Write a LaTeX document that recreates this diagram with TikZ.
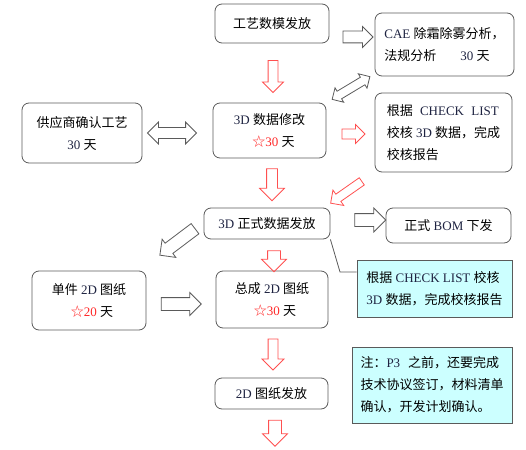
\documentclass[tikz,border=0pt]{standalone}
\usepackage{fontspec}
\setmainfont{Liberation Serif}
\newfontfamily\zhfont{Noto Sans CJK SC}
\usetikzlibrary{shapes.arrows}
\definecolor{boxgray}{RGB}{90,90,90}
\definecolor{latin}{RGB}{30,35,65}
\definecolor{arrred}{RGB}{255,80,80}
\definecolor{starred}{RGB}{255,40,40}
\definecolor{notefill}{RGB}{204,255,255}
\newcommand\zh[1]{{\zhfont #1}}
\newcommand\lat[1]{\textcolor{latin}{#1}}
\newcommand\due[1]{\textcolor{starred}{{\zhfont ☆}#1}}
\tikzset{
  box/.style={draw=boxgray, line width=0.8pt, rounded corners=7pt, align=center, inner sep=0pt},
  note/.style={draw=boxgray, fill=notefill, line width=1pt, align=left, inner sep=0pt},
  blk/.style={single arrow, line width=0.8pt, inner xsep=0pt, minimum width=0pt},
  redblk/.style={blk, draw=arrred},
  grayblk/.style={blk, draw=boxgray},
  dblk/.style={double arrow, draw=boxgray, line width=0.8pt, inner xsep=0pt, minimum width=0pt},
}
\begin{document}
\begin{tikzpicture}[x=1pt, y=-1pt, font=\fontsize{13}{22}\selectfont]
\useasboundingbox (0,0) rectangle (526,449);

\node [box, minimum width=114pt, minimum height=39pt] (v1) at (272,23.5) {\zh{工艺数模发放}};
\node [box, align=left, minimum width=139pt, minimum height=63pt] (v2) at (444.5,44.5) {\lat{CAE} \zh{除霜除雾分析，}\\\zh{法规分析}\hspace{24pt}\lat{30} \zh{天}};
\node [box, align=left, minimum width=137pt, minimum height=79pt] (v3) at (443.5,132.5) {\makebox[112pt][s]{\zh{根据} \lat{CHECK} \lat{LIST}}\\\zh{校核} \lat{3D} \zh{数据，完成}\\\zh{校核报告}};
\node [box, minimum width=120pt, minimum height=60pt] (v4) at (82,133) {\zh{供应商确认工艺}\\\lat{30} \zh{天}};
\node [box, minimum width=113pt, minimum height=55pt] (v5) at (269.5,130.5) {\lat{3D} \zh{数据修改}\\\hspace{8pt}\due{30} \zh{天}};
\node [box, minimum width=126pt, minimum height=31pt] (v6) at (267,223.5) {\lat{3D} \zh{正式数据发放}};
\node [box, minimum width=125pt, minimum height=35pt] (v7) at (448.5,225.5) {\zh{正式} \lat{BOM} \zh{下发}};
\node [box, minimum width=114pt, minimum height=59pt] (v8) at (89,300.5) {\zh{单件} \lat{2D} \zh{图纸}\\\hspace{6pt}\due{20} \zh{天}};
\node [box, minimum width=112pt, minimum height=57pt] (v9) at (272,299.5) {\zh{总成} \lat{2D} \zh{图纸}\\\hspace{6pt}\due{30} \zh{天}};
\node [box, minimum width=113pt, minimum height=31pt] (v10) at (271.5,393.5) {\lat{2D} \zh{图纸发放}};
\node [note, minimum width=155pt, minimum height=57pt] (n1) at (434.5,288.5) {\zh{根据} \lat{CHECK LIST} \zh{校核}\\\lat{3D} \zh{数据，完成校核报告}};
\node [note, minimum width=160pt, minimum height=76pt] (n2) at (432,385) {\zh{注：}\lat{P3}\hspace{8pt}\zh{之前，还要完成}\\\zh{技术协议签订，材料清单}\\\zh{确认，开发计划确认。}};

% block arrows
\node [grayblk, minimum height=30pt, inner ysep=5.5pt, single arrow head extend=4.5pt] (a1) at (355,37) {};
\node [redblk, minimum height=32pt, inner ysep=4.5pt, single arrow head extend=5.5pt, rotate=-90] (a2) at (273,74) {};
\node [dblk, minimum height=44pt, inner ysep=4pt, double arrow head extend=4pt, rotate=31] (a3) at (351,88) {};
\node [dblk, minimum height=49pt, inner ysep=5pt, double arrow head extend=5.5pt] (a4) at (172,133) {};
\node [redblk, minimum height=23pt, inner ysep=4.5pt, single arrow head extend=4.5pt] (a5) at (351,134) {};
\node [redblk, minimum height=32pt, inner ysep=5pt, single arrow head extend=7pt, rotate=-90] (a6) at (272,182) {};
\node [redblk, minimum height=38pt, inner ysep=4pt, single arrow head extend=5pt, rotate=215] (a7) at (348,191) {};
\node [grayblk, minimum height=31pt, inner ysep=6pt, single arrow head extend=5.5pt] (a8) at (367,220) {};
\node [grayblk, minimum height=44pt, inner ysep=6pt, single arrow head extend=5pt, rotate=217] (a9) at (180,240) {};
\node [redblk, minimum height=21pt, inner ysep=6pt, single arrow head extend=6pt, rotate=-90] (a10) at (274,258) {};
\node [grayblk, minimum height=40pt, inner ysep=6pt, single arrow head extend=5pt] (a11) at (178,304) {};
\node [redblk, minimum height=31pt, inner ysep=4.5pt, single arrow head extend=6pt, rotate=-90] (a12) at (273,352) {};
\node [redblk, minimum height=26pt, inner ysep=6pt, single arrow head extend=6pt, rotate=-90] (a13) at (275,430) {};

% callout
\coordinate (c1) at (340,272);
\draw [boxgray, line width=0.8pt] (v6.south east) -- (c1) -- (c1 -| n1.west);
\end{tikzpicture}
\end{document}
